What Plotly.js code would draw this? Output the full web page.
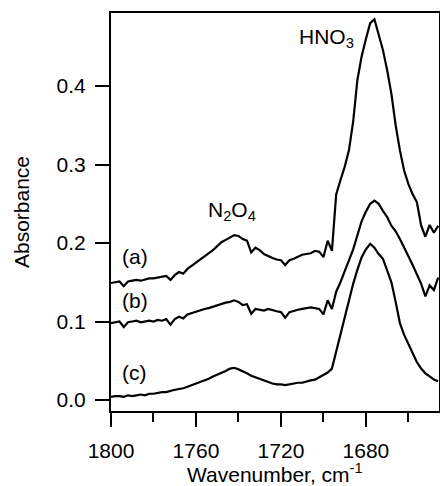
<!DOCTYPE html>
<html>
<head>
<meta charset="utf-8">
<script src="https://cdn.plot.ly/plotly-3.0.1.min.js"></script>
<style>html,body{margin:0;padding:0;background:#fff;}#chart{width:440px;height:486px;}</style>
</head>
<body>
<div id="chart"></div>
<script>
var wavenumber = [1800,1798,1796,1794,1792,1790,1788,1786,1784,1782,1780,1778,1776,1774,1772,1770,1768,1766,1764,1762,1760,1758,1756,1754,1752,1750,1748,1746,1744,1742,1740,1738,1736,1734,1732,1730,1728,1726,1724,1722,1720,1718,1716,1714,1712,1710,1708,1706,1704,1702,1700,1698,1696,1694,1692,1690,1688,1686,1684,1682,1680,1678,1676,1674,1672,1670,1668,1666,1664,1662,1660,1658,1656,1654,1652,1650,1648,1646];

var seriesA = [0.149,0.150,0.151,0.145,0.151,0.152,0.153,0.152,0.154,0.155,0.155,0.156,0.157,0.158,0.153,0.159,0.163,0.161,0.167,0.171,0.174,0.178,0.183,0.187,0.191,0.196,0.201,0.204,0.207,0.210,0.209,0.205,0.203,0.188,0.194,0.191,0.186,0.183,0.181,0.179,0.178,0.172,0.178,0.180,0.183,0.185,0.186,0.187,0.190,0.189,0.182,0.203,0.190,0.262,0.280,0.297,0.318,0.355,0.408,0.438,0.460,0.480,0.485,0.465,0.446,0.420,0.390,0.350,0.318,0.292,0.275,0.262,0.252,0.222,0.208,0.223,0.213,0.222];

var seriesB = [0.098,0.099,0.100,0.093,0.099,0.100,0.101,0.099,0.100,0.101,0.100,0.102,0.101,0.103,0.096,0.103,0.106,0.104,0.109,0.111,0.112,0.114,0.116,0.117,0.119,0.121,0.123,0.124,0.125,0.127,0.125,0.121,0.122,0.110,0.116,0.115,0.114,0.116,0.114,0.113,0.112,0.105,0.112,0.114,0.115,0.116,0.117,0.118,0.117,0.116,0.109,0.127,0.116,0.138,0.150,0.163,0.178,0.192,0.210,0.228,0.240,0.250,0.254,0.250,0.241,0.233,0.222,0.215,0.205,0.195,0.183,0.172,0.160,0.148,0.132,0.146,0.140,0.156];

var seriesC = [0.004,0.005,0.005,0.004,0.006,0.005,0.006,0.007,0.006,0.008,0.008,0.009,0.010,0.010,0.012,0.013,0.014,0.015,0.017,0.019,0.020,0.022,0.025,0.027,0.030,0.032,0.035,0.037,0.040,0.041,0.039,0.037,0.034,0.031,0.029,0.026,0.024,0.022,0.021,0.020,0.020,0.019,0.020,0.021,0.022,0.022,0.024,0.025,0.026,0.029,0.031,0.035,0.040,0.062,0.083,0.105,0.126,0.148,0.166,0.182,0.192,0.199,0.194,0.186,0.180,0.166,0.150,0.125,0.098,0.083,0.072,0.060,0.048,0.040,0.034,0.030,0.026,0.024];

var seriesLabels = ['(a)', '(b)', '(c)'];
var xTickVals = [1800, 1760, 1720, 1680];
var yTickVals = [0.0, 0.1, 0.2, 0.3, 0.4];
var xTitle = 'Wavenumber, cm<sup>-1</sup>';
var yTitle = 'Absorbance';

var FONT = 'Arial, "Liberation Sans", sans-serif';
var lineStyle = {color: '#000', width: 2.2};

var traces = [seriesA, seriesB, seriesC].map(function (ys, i) {
  return {x: wavenumber, y: ys, type: 'scatter', mode: 'lines', name: seriesLabels[i], line: lineStyle, hoverinfo: 'skip'};
});

var ann = function (x, y, text, xa, ya) {
  return {x: x, y: y, xref: 'x', yref: 'y', text: text, showarrow: false, xanchor: xa || 'left', yanchor: ya || 'bottom', font: {family: FONT, size: 21, color: '#000'}};
};

var layout = {
  width: 440, height: 486,
  margin: {l: 111, r: 1, t: 13, b: 75, pad: 0},
  paper_bgcolor: '#fff', plot_bgcolor: '#fff',
  showlegend: false,
  font: {family: FONT, size: 21, color: '#000'},
  xaxis: {
    range: [1800, 1645.6],
    tickvals: xTickVals,
    ticks: 'outside', ticklen: 14, tickwidth: 2, tickcolor: '#000',
    ticklabelstandoff: 6,
    minor: {dtick: 20, tick0: 1800, ticks: 'outside', ticklen: 9, tickwidth: 2, tickcolor: '#000'},
    showline: true, linewidth: 2, linecolor: '#000', mirror: true,
    showgrid: false, zeroline: false,
    tickfont: {family: FONT, size: 21, color: '#000'}
  },
  yaxis: {
    range: [-0.014, 0.493],
    tickvals: yTickVals, tickformat: '.1f',
    ticks: 'outside', ticklen: 14, tickwidth: 2, tickcolor: '#000',
    ticklabelstandoff: 5,
    showline: true, linewidth: 2, linecolor: '#000', mirror: true,
    showgrid: false, zeroline: false,
    tickfont: {family: FONT, size: 21, color: '#000'},
    title: {text: yTitle, font: {family: FONT, size: 21, color: '#000'}, standoff: 21}
  },
  annotations: [
    ann(1795.6, 0.165, seriesLabels[0]),
    ann(1795.6, 0.110, seriesLabels[1]),
    ann(1795.6, 0.018, seriesLabels[2]),
    ann(1755.5, 0.222, 'N<sub>2</sub>O<sub>4</sub>'),
    ann(1712.5, 0.442, 'HNO<sub>3</sub>'),
    {x: 0.5, y: -0.156, xref: 'paper', yref: 'paper', text: xTitle, showarrow: false, xanchor: 'center', yanchor: 'middle', font: {family: FONT, size: 21, color: '#000'}}
  ]
};

Plotly.newPlot('chart', traces, layout, {staticPlot: true, displayModeBar: false});
</script>
</body>
</html>
